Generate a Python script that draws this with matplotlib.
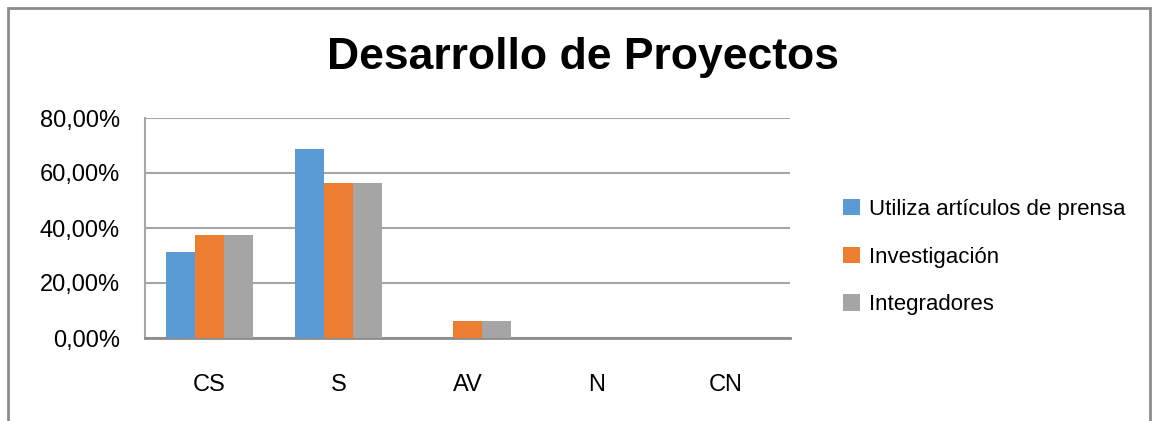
import numpy as np
import matplotlib.pyplot as plt
from matplotlib.patches import Rectangle

# data
categories = ['CS', 'S', 'AV', 'N', 'CN']
series_names = ['Utiliza artículos de prensa', 'Investigación', 'Integradores']
prensa = [31.25, 68.75, 0.0, 0.0, 0.0]
investigacion = [37.5, 56.25, 6.25, 0.0, 0.0]
integradores = [37.5, 56.25, 6.25, 0.0, 0.0]
colors = ['#5B9BD5', '#ED7D31', '#A5A5A5']
yticks = [0, 20, 40, 60, 80]

plt.rcParams['font.family'] = ['Liberation Sans', 'DejaVu Sans']

W, H = 1155, 421
fig = plt.figure(figsize=(W / 100, H / 100), dpi=100)
ax = fig.add_axes([145 / W, 1 - 338 / H, (790 - 145) / W, (338 - 118) / H])

# outer chart border
fig.patches.append(Rectangle((8 / W, -0.1), (1150 - 8) / W, 1.1 - 8 / H,
                             transform=fig.transFigure, fill=False,
                             edgecolor='#8C8C8C', linewidth=2))

x = np.arange(len(categories))
w = 0.225
for i, (vals, name) in enumerate(zip([prensa, investigacion, integradores], series_names)):
    ax.bar(x + (i - 1) * w, vals, width=w, color=colors[i], label=name, zorder=3)

ax.set_xlim(-0.5, len(categories) - 0.5)
ax.set_ylim(0, 80)
ax.set_yticks(yticks)
ax.set_yticklabels([('%.2f%%' % v).replace('.', ',') for v in yticks])
ax.set_xticks(x)
ax.set_xticklabels(categories)
ax.tick_params(axis='both', length=0, labelsize=17, colors='black')
ax.tick_params(axis='x', pad=26)
ax.tick_params(axis='y', pad=18)
ax.grid(axis='y', color='#A6A6A6', linewidth=1.5, zorder=0)
for s in ['top', 'right']:
    ax.spines[s].set_visible(False)
ax.spines['left'].set_color('#A6A6A6')
ax.spines['left'].set_linewidth(1.5)
ax.spines['bottom'].set_color('#8C8C8C')
ax.spines['bottom'].set_linewidth(2)

fig.text(0.505, 1 - 58 / H, 'Desarrollo de Proyectos', ha='center', va='center',
         fontsize=32, fontweight='bold')

ax.legend(loc='center left', bbox_to_anchor=(823 / W, 1 - 257 / H),
          bbox_transform=fig.transFigure, frameon=False, fontsize=16,
          handlelength=0.75, handleheight=0.75, handletextpad=0.4,
          labelspacing=1.2)

fig.savefig('out.png', dpi=100)
